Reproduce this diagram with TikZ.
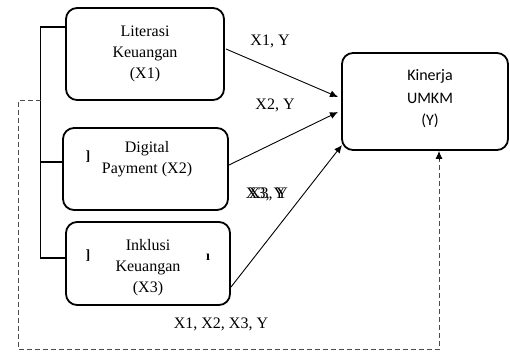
\documentclass[tikz,border=0pt]{standalone}
\usepackage{fontspec}
\setmainfont{Liberation Serif}
\newfontfamily\boxsans{Carlito}
\usetikzlibrary{arrows.meta}

\tikzset{
  varbox/.style={draw, line width=1.8pt, rounded corners=11pt, inner sep=0pt},
  varlabel/.style={font=\fontsize{16}{21}\selectfont, align=center, inner sep=0pt},
  ylabel/.style={font=\boxsans\fontsize{16}{22.5}\selectfont, align=center, inner sep=0pt},
  pathlabel/.style={font=\fontsize{16}{18}\selectfont, inner sep=0pt},
  strayglyph/.style={font=\bfseries\fontsize{14}{14}\selectfont, inner sep=0pt},
  link/.style={line width=0.9pt, -{Latex[length=8pt,width=7pt]}},
  bracket/.style={line width=1.4pt},
  feedback/.style={line width=0.9pt, draw=black!70, dash pattern=on 5pt off 3pt}
}

\begin{document}
\begin{tikzpicture}[x=1pt,y=-1pt]
\useasboundingbox (0,0) rectangle (510,351);

% variable boxes
\node[varbox, minimum width=158pt, minimum height=92pt] (b1) at (145,54) {};
\node[varbox, minimum width=165pt, minimum height=82pt] (b2) at (145.5,169) {};
\node[varbox, minimum width=164pt, minimum height=83pt] (b3) at (148,263.5) {};
\node[varbox, minimum width=166pt, minimum height=97pt] (by) at (425,101.5) {};

% box texts
\node[varlabel] (t1) at (145,54) {Literasi\\Keuangan\\(X1)};
\node[varlabel] (t2) at (147,159) {Digital\\Payment (X2)};
\node[varlabel] (t3) at (148,268) {Inklusi\\Keuangan\\(X3)};
\node[ylabel] (ty) at (430,99) {Kinerja\\UMKM\\(Y)};

% stray glyphs inside the boxes
\node[strayglyph] (g1) at (88,157) {]};
\node[strayglyph] (g2) at (88,256) {]};
\node[strayglyph] (g3) at (208,257) {\i};

% bracket joining the three predictors
\coordinate (brtop) at (40.5,27);
\coordinate (brmid) at (40.5,162);
\coordinate (brbot) at (40.5,258);
\draw[bracket] (b1.west |- brtop) -- (brtop) -- (brbot) -- (b3.west |- brbot);
\draw[bracket] (brmid) -- (b2.west |- brmid);

% direct paths into Y
\coordinate (s1) at (226,49);
\coordinate (e1) at (338,97);
\coordinate (s2) at (229,165);
\coordinate (e2) at (338,112);
\coordinate (s3) at (231,287);
\coordinate (e3) at (342,145);
\draw[link] (s1) -- (e1);
\draw[link] (s2) -- (e2);
\draw[link] (s3) -- (e3);

% path labels (the third one is printed twice, slightly shifted)
\node[pathlabel] (l1) at (270,41) {X1, Y};
\node[pathlabel] (l2) at (275,105) {X2, Y};
\node[pathlabel] (l3) at (267,194) {\rlap{X3, Y}\hspace{3pt}X3, Y};
\node[pathlabel] (l4) at (221,324) {X1, X2, X3, Y};

% joint (dashed) path into Y
\coordinate (d0) at (40.5,100);
\coordinate (d1) at (18,100);
\coordinate (d2) at (18,349);
\coordinate (d3) at (439,349);
\coordinate (d4) at (439,160);
\draw[feedback] (d0) -- (d1) -- (d2) -- (d3) -- (d4);
\draw[link] (d4) -- (by.south -| d3);
\end{tikzpicture}
\end{document}
